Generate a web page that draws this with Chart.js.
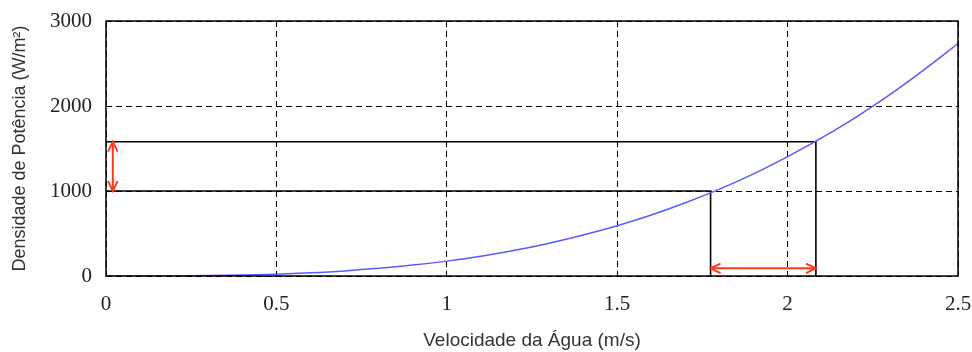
<!DOCTYPE html>
<html>
<head>
<meta charset="utf-8">
<script src="https://cdn.jsdelivr.net/npm/chart.js@4/dist/chart.umd.min.js"></script>
<style>
  html, body { margin: 0; padding: 0; background: #fff; }
  #wrap { width: 972px; height: 352px; }
</style>
</head>
<body>
<div id="wrap"><canvas id="grafico" width="972" height="352"></canvas></div>
<script>
// Curva: velocidade (m/s) x densidade de potência (W/m²)
const velocidades = [0, 0.1, 0.2, 0.3, 0.4, 0.5, 0.6, 0.7, 0.8, 0.9, 1.0, 1.1, 1.2,
  1.3, 1.4, 1.5, 1.6, 1.7, 1.8, 1.9, 2.0, 2.1, 2.2, 2.3, 2.4, 2.5];
const densidades = [0, 0.2, 1.4, 4.7, 11, 22, 38, 60, 90, 128, 175, 233, 303,
  385, 482, 592, 718, 862, 1022, 1202, 1405, 1625, 1866, 2133, 2424, 2734];

// Linhas de referência (pretas)
const refBaixa = { v: 1.774, p: 1000 };
const refAlta = { v: 2.083, p: 1580 };

// Setas vermelhas
const setaVertical = { x: 0.02, y0: 1000, y1: 1580 };
const setaHorizontal = { y: 90, x0: 1.774, x1: 2.083 };

const ticksX = [0, 0.5, 1, 1.5, 2, 2.5];
const ticksY = [0, 1000, 2000, 3000];

const pontosCurva = velocidades.map((v, i) => ({ x: v, y: densidades[i] }));

function seta(ctx, x0, y0, x1, y1) {
  const ang = Math.atan2(y1 - y0, x1 - x0);
  const tam = 11, abre = 0.45;
  ctx.beginPath();
  ctx.moveTo(x0, y0);
  ctx.lineTo(x1, y1);
  ctx.stroke();
  [[x1, y1, ang], [x0, y0, ang + Math.PI]].forEach(([x, y, a]) => {
    ctx.beginPath();
    ctx.moveTo(x - tam * Math.cos(a - abre), y - tam * Math.sin(a - abre));
    ctx.lineTo(x, y);
    ctx.lineTo(x - tam * Math.cos(a + abre), y - tam * Math.sin(a + abre));
    ctx.stroke();
  });
}

const pluginExtras = {
  id: 'extras',
  afterDatasetsDraw(chart) {
    const { ctx, chartArea, scales } = chart;
    ctx.save();
    // caixa do gráfico
    ctx.strokeStyle = '#000';
    ctx.lineWidth = 1.5;
    ctx.setLineDash([]);
    ctx.strokeRect(chartArea.left, chartArea.top, chartArea.right - chartArea.left, chartArea.bottom - chartArea.top);
    // setas
    ctx.strokeStyle = '#ff3a1c';
    ctx.lineWidth = 2;
    const xv = scales.x.getPixelForValue(setaVertical.x);
    seta(ctx, xv, scales.y.getPixelForValue(setaVertical.y0), xv, scales.y.getPixelForValue(setaVertical.y1));
    const yh = scales.y.getPixelForValue(setaHorizontal.y);
    seta(ctx, scales.x.getPixelForValue(setaHorizontal.x0), yh, scales.x.getPixelForValue(setaHorizontal.x1), yh);
    ctx.restore();
  }
};

new Chart(document.getElementById('grafico'), {
  type: 'line',
  data: {
    datasets: [
      {
        data: pontosCurva,
        borderColor: '#5a5aff',
        borderWidth: 1.5,
        pointRadius: 0,
        cubicInterpolationMode: 'monotone'
      },
      {
        data: [{ x: 0, y: refBaixa.p }, { x: refBaixa.v, y: refBaixa.p }, { x: refBaixa.v, y: 0 }],
        borderColor: '#000',
        borderWidth: 1.6,
        pointRadius: 0,
        tension: 0
      },
      {
        data: [{ x: 0, y: refAlta.p }, { x: refAlta.v, y: refAlta.p }, { x: refAlta.v, y: 0 }],
        borderColor: '#000',
        borderWidth: 1.6,
        pointRadius: 0,
        tension: 0
      }
    ]
  },
  options: {
    responsive: false,
    animation: false,
    layout: { padding: { left: 0, right: 14, top: 21, bottom: 0 } },
    plugins: { legend: { display: false }, tooltip: { enabled: false } },
    scales: {
      x: {
        type: 'linear',
        min: 0,
        max: 2.5,
        afterBuildTicks: (s) => { s.ticks = ticksX.map(v => ({ value: v })); },
        afterFit: (s) => { s.height = 76; s.paddingLeft = 0; s.paddingRight = 0; },
        ticks: {
          padding: 16,
          color: '#222',
          font: { family: 'Liberation Serif', size: 21 },
          callback: (v) => String(v)
        },
        grid: { color: '#000', lineWidth: 1, drawTicks: false },
        border: { display: false, dash: [6, 4] },
        title: {
          display: true,
          text: 'Velocidade da Água (m/s)',
          color: '#333',
          font: { family: 'Liberation Sans', size: 19 },
          padding: { top: 0, bottom: 0 }
        }
      },
      y: {
        min: 0,
        max: 3000,
        afterBuildTicks: (s) => { s.ticks = ticksY.map(v => ({ value: v })); },
        afterFit: (s) => { s.width = 106; s.paddingTop = 0; s.paddingBottom = 0; },
        ticks: {
          padding: 14,
          color: '#222',
          font: { family: 'Liberation Serif', size: 21 },
          callback: (v) => String(v)
        },
        grid: { color: '#000', lineWidth: 1, drawTicks: false },
        border: { display: false, dash: [6, 4] },
        title: {
          display: true,
          text: 'Densidade de Potência (W/m²)',
          color: '#333',
          font: { family: 'Liberation Sans', size: 18 },
          padding: { top: 9, bottom: 0 }
        }
      }
    }
  },
  plugins: [pluginExtras]
});
</script>
</body>
</html>
